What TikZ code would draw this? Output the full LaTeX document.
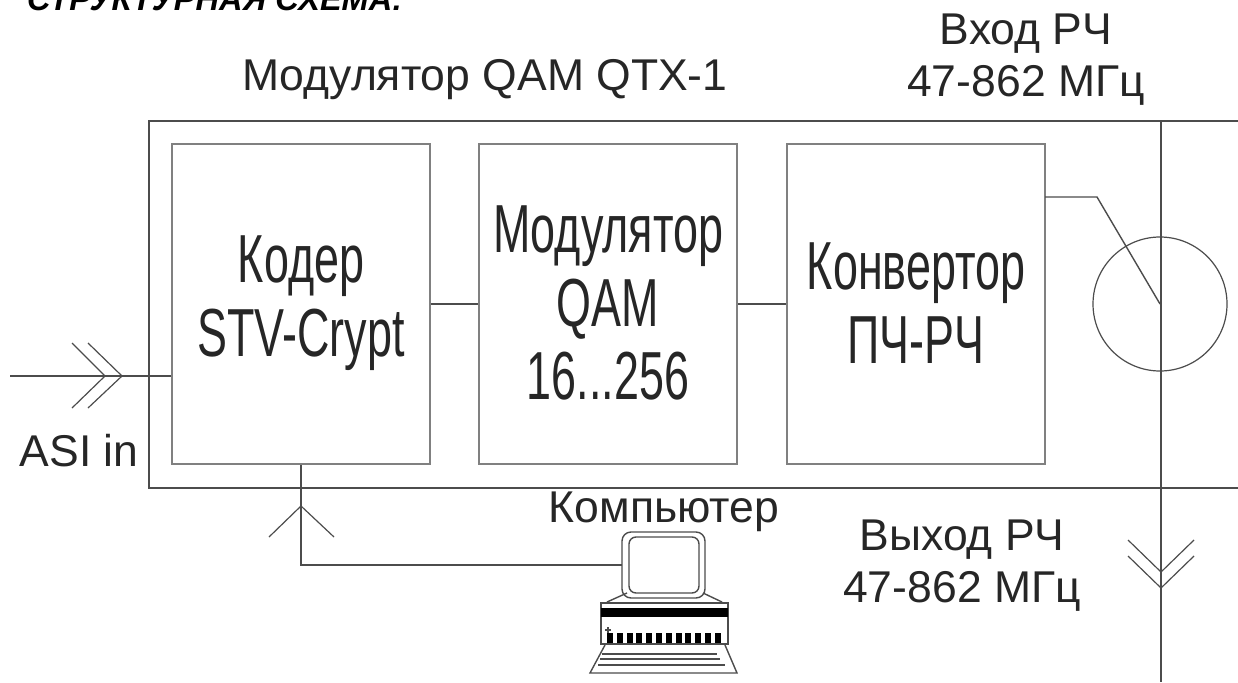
\documentclass[tikz,border=0pt]{standalone}
\usepackage{fontspec}
\setmainfont{Liberation Sans}
\definecolor{inkline}{gray}{0.3}
\definecolor{blockline}{gray}{0.5}
\definecolor{inktext}{gray}{0.15}
\tikzset{
	blockbox/.style={draw=blockline, line width=2.2pt, minimum width=258pt, minimum height=320pt, inner sep=0pt},
	blocktext/.style={font=\fontsize{68}{73.5}\selectfont, text=inktext, align=center, xscale=0.66, transform shape, inner sep=0pt},
	labeltext/.style={font=\fontsize{44.5}{52}\selectfont, text=inktext, align=center, inner sep=0pt},
	wire/.style={draw=inkline, line width=1.4pt},
	chevron/.style={draw=inkline, line width=1.2pt},
	computerline/.style={draw=inkline, line width=1.4pt},
}
\begin{document}
\begin{tikzpicture}[x=1pt,y=-1pt]
	\useasboundingbox (0,0) rectangle (1238,682);
	% heading, cut off by the top edge
	\node[anchor=base west, inner sep=0pt, font=\fontsize{32.5}{32.5}\selectfont\bfseries\itshape] (heading) at (27,11) {СТРУКТУРНАЯ СХЕМА:};
	% housing
	\coordinate (housetr) at (1238,121);
	\coordinate (housebr) at (1238,488);
	\draw[wire] (housetr) -- (149,121) -- (149,488) -- (housebr);
	% blocks
	\node[blockbox] (coder) at (301,304) {};
	\node[blockbox] (modulator) at (608,304) {};
	\node[blockbox] (converter) at (916,304) {};
	\node[blocktext] (codertext) at (301,303) {Кодер\\STV-Crypt};
	\node[blocktext] (modulatortext) at (608,303) {Модулятор\\QAM\\16...256};
	\node[blocktext] (convertertext) at (916,303) {Конвертор\\ПЧ-РЧ};
	\draw[wire] (coder) -- (modulator);
	\draw[wire] (modulator) -- (converter);
	% RF through line and coupler
	\node[draw=inkline, line width=1.2pt, circle, minimum size=134pt, inner sep=0pt] (coupler) at (1160,304) {};
	\coordinate (rfin) at (1161,121);
	\coordinate (rfout) at (1161,682);
	\draw[wire] (rfin) -- (rfout);
	\coordinate (feedstart) at (1045,197);
	\coordinate (feedbend) at (1097,197);
	\draw[wire] (feedstart) -- (feedbend) -- (coupler.center);
	% RF output chevrons
	\draw[chevron] (1128,540) -- (1161,572) -- (1194,540);
	\draw[chevron] (1128,556) -- (1161,588) -- (1194,556);
	% ASI input
	\coordinate (asistart) at (10,376);
	\draw[wire] (asistart) -- (asistart -| coder.west);
	\draw[chevron] (72,343) -- (105,376) -- (72,408);
	\draw[chevron] (88,343) -- (122,376) -- (88,408);
	% computer link
	\coordinate (linkbend) at (301,565);
	\coordinate (linkend) at (622,565);
	\draw[wire] (coder.south) -- (linkbend) -- (linkend);
	\draw[chevron] (269,537) -- (301,506) -- (334,537);
	% computer
	\draw[computerline, rounded corners=9pt] (622,532) rectangle (705,598);
	\draw[computerline, rounded corners=7pt] (629,537) rectangle (699,593);
	\draw[computerline] (607,602) -- (627,593);
	\draw[computerline] (722,602) -- (703,593);
	\draw[computerline] (601,603) rectangle (728,644);
	\fill[black] (601,608) rectangle (728,617);
	\draw[computerline] (608,627) -- (608,633);
	\draw[computerline] (605,630) -- (611,630);
	\foreach \k in {0,...,11}
		\fill[black] (607+\k*9.8,633) rectangle (613+\k*9.8,643);
	\draw[computerline] (605,645) -- (590,673) -- (737,673) -- (725,645);
	\draw[computerline] (602,654) -- (717,654);
	\draw[computerline] (600,659) -- (720,659);
	\draw[computerline] (598,665) -- (725,665);
	% labels
	\node[labeltext] (title) at (485,80) {Модулятор QAM QTX-1};
	\node[labeltext] (rfinlabel) at (1026,60) {Вход РЧ\\47-862 МГц};
	\node[labeltext] (rfoutlabel) at (962,566) {Выход РЧ\\47-862 МГц};
	\node[labeltext] (computerlabel) at (664,512) {Компьютер};
	\node[labeltext] (asilabel) at (79,451) {ASI in};
\end{tikzpicture}
\end{document}
